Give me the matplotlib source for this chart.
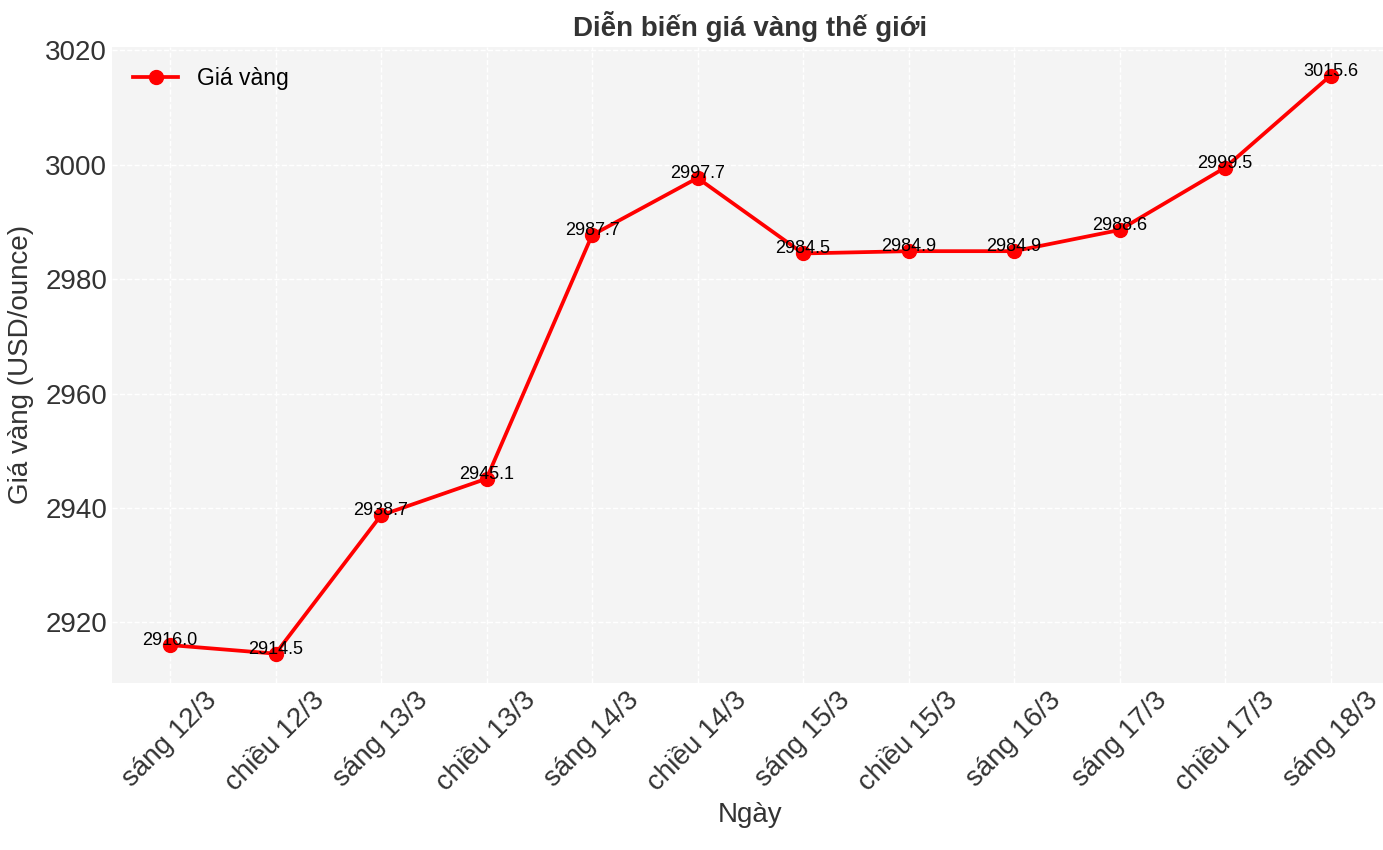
import matplotlib
matplotlib.use("Agg")
import matplotlib.pyplot as plt

dates = ["sáng 12/3", "chiều 12/3", "sáng 13/3", "chiều 13/3", "sáng 14/3", "chiều 14/3",
         "sáng 15/3", "chiều 15/3", "sáng 16/3", "sáng 17/3", "chiều 17/3", "sáng 18/3"]
prices = [2916.0, 2914.5, 2938.7, 2945.1, 2987.7, 2997.7,
          2984.5, 2984.9, 2984.9, 2988.6, 2999.5, 3015.6]

plt.rcParams["font.family"] = ["Liberation Sans", "DejaVu Sans"]

fig, ax = plt.subplots(figsize=(13.83, 8.5), dpi=100)
fig.subplots_adjust(left=0.081, right=1.004, top=0.945, bottom=0.197)

ax.set_facecolor("#f4f4f4")
for s in ax.spines.values():
    s.set_visible(False)

x = list(range(len(dates)))
ax.plot(x, prices, color="red", linewidth=2.7, marker="o", markersize=10, label="Giá vàng")

for xi, v in zip(x, prices):
    ax.text(xi, v, f"{v:.1f}", ha="center", va="baseline", fontsize=13, color="black")

ax.grid(True, color="white", linestyle="--", linewidth=1)
ax.set_xticks(x)
ax.set_xticklabels(dates, rotation=45, fontsize=20, color="#333333")
ax.tick_params(axis="y", labelsize=20, colors="#333333")
ax.tick_params(length=0)

ax.set_title("Diễn biến giá vàng thế giới", fontsize=20, fontweight="bold", color="#333333", pad=8)
ax.set_xlabel("Ngày", fontsize=20, color="#333333")
ax.set_ylabel("Giá vàng (USD/ounce)", fontsize=20, color="#333333", labelpad=8)
ax.legend(loc="upper left", fontsize=16.5, frameon=False)

fig.savefig("out.png", dpi=100)
